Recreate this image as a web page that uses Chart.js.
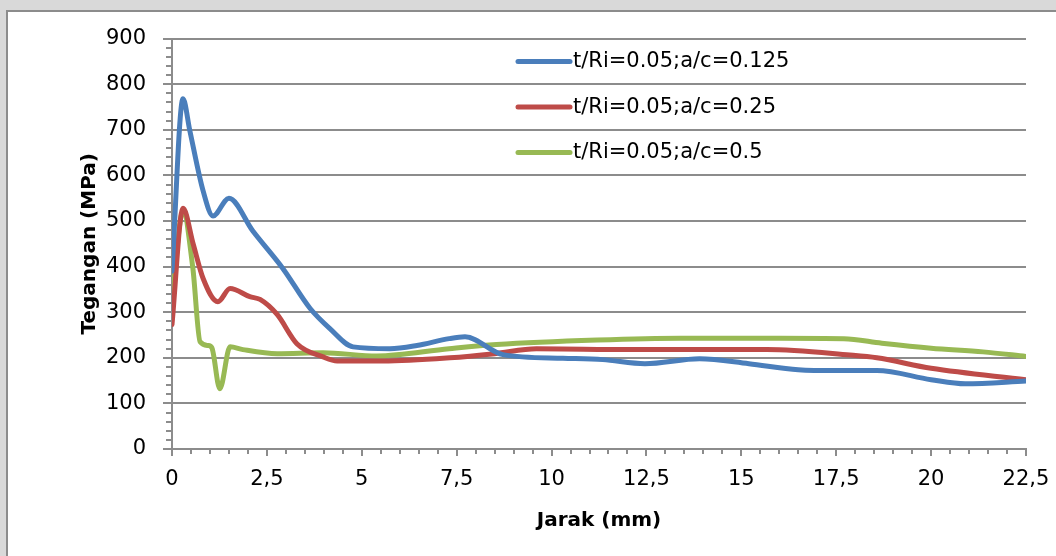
<!DOCTYPE html>
<html>
<head>
<meta charset="utf-8">
<script src="https://cdn.jsdelivr.net/npm/chart.js@4.4.1/dist/chart.umd.min.js"></script>
<style>
  html, body { margin: 0; padding: 0; }
  body { width: 1056px; height: 556px; background: #d9d9d9; position: relative; overflow: hidden; }
  #kotak { position: absolute; left: 6px; top: 10px; width: 1100px; height: 600px; background: #fff; border: 2px solid #8c8c8c; box-sizing: border-box; }
  #grafik { position: absolute; left: 0; top: 0; }
</style>
</head>
<body>
<div id="kotak"></div>
<canvas id="grafik" width="1056" height="556"></canvas>
<script>
// jarak (mm) dan tegangan (MPa) tiap kurva
const jarakA = [0, 0.29, 0.47, 0.82, 1.08, 1.5, 2.13, 2.92, 3.64, 4.16, 4.77, 5.74, 6.45, 7.3, 7.72, 8.72, 10.3, 11.35, 12.46, 13.9, 15.2, 16.5, 17.5, 18.57, 20.0, 20.9, 22.5];
const teganganA = [390, 768, 698, 566, 511, 550, 478, 396, 308, 264, 224, 220, 227, 242, 246, 207, 199, 196, 187, 198, 187, 174, 172, 172, 152, 143, 149];

const jarakB = [0, 0.29, 0.56, 0.82, 1.21, 1.53, 2.05, 2.32, 2.77, 3.29, 3.98, 4.35, 5.56, 7.32, 8.5, 9.6, 12.07, 15.67, 17.86, 18.57, 20.0, 22.5];
const teganganB = [273, 528, 449, 374, 323, 352, 334, 328, 295, 231, 202, 193, 193, 200, 209, 220, 218, 218, 206, 200, 177, 152];

const jarakC = [0, 0.29, 0.55, 0.74, 0.95, 1.05, 1.26, 1.53, 1.87, 2.77, 3.98, 5.4, 7.3, 8.55, 11.2, 13.4, 16.0, 17.7, 18.7, 20.0, 21.37, 22.5];
const teganganC = [330, 521, 396, 235, 227, 222, 132, 224, 218, 209, 211, 204, 220, 229, 239, 243, 243, 242, 232, 221, 213, 203];

const namaSeri = ["t/Ri=0.05;a/c=0.125", "t/Ri=0.05;a/c=0.25", "t/Ri=0.05;a/c=0.5"];
const warnaSeri = ["#4a7ebb", "#be4b48", "#98b954"];

const abu = "#8c8c8c";
const hurufAngka = { family: "DejaVu Sans", size: 21 };
const hurufJudul = { family: "DejaVu Sans", size: 20, weight: "bold" };

function gabung(xs, ys) {
  return xs.map((x, i) => ({ x, y: ys[i] }));
}

function seri(i, xs, ys) {
  return {
    label: namaSeri[i],
    data: gabung(xs, ys),
    borderColor: warnaSeri[i],
    borderWidth: 5,
    pointRadius: 0,
    fill: false,
    cubicInterpolationMode: "monotone",
    borderCapStyle: "round",
    borderJoinStyle: "round"
  };
}

// tanda skala mayor/minor di luar sumbu
const tandaSkala = {
  id: "tandaSkala",
  afterDraw(chart) {
    const { ctx, chartArea: area, scales: { x, y } } = chart;
    ctx.save();
    ctx.strokeStyle = abu;
    ctx.lineWidth = 2;
    for (let v = 0; v <= 900; v += 20) {
      const py = Math.round(y.getPixelForValue(v));
      const p = v % 100 === 0 ? 9 : 6;
      ctx.beginPath();
      ctx.moveTo(area.left - p, py);
      ctx.lineTo(area.left, py);
      ctx.stroke();
    }
    for (let k = 0; k <= 45; k++) {
      const px = Math.round(x.getPixelForValue(k * 0.5));
      const p = k % 5 === 0 ? 7 : 5;
      ctx.beginPath();
      ctx.moveTo(px, area.bottom);
      ctx.lineTo(px, area.bottom + p);
      ctx.stroke();
    }
    ctx.restore();
  }
};

// legenda di dalam area plot
const legendaDalam = {
  id: "legendaDalam",
  afterDraw(chart) {
    const { ctx, chartArea: area } = chart;
    ctx.save();
    ctx.font = "21px 'DejaVu Sans'";
    ctx.textBaseline = "middle";
    ctx.fillStyle = "#000";
    ctx.lineCap = "round";
    ctx.lineWidth = 5;
    chart.data.datasets.forEach((ds, i) => {
      const ly = area.top + 23 + i * 45.5;
      const lx = area.left + 346;
      ctx.strokeStyle = ds.borderColor;
      ctx.beginPath();
      ctx.moveTo(lx, ly);
      ctx.lineTo(lx + 52, ly);
      ctx.stroke();
      ctx.fillText(ds.label, lx + 55, ly);
    });
    ctx.restore();
  }
};

new Chart(document.getElementById("grafik"), {
  type: "line",
  data: {
    datasets: [
      seri(0, jarakA, teganganA),
      seri(1, jarakB, teganganB),
      seri(2, jarakC, teganganC)
    ]
  },
  options: {
    responsive: false,
    animation: false,
    layout: { padding: { top: 38, right: 30, left: 0, bottom: 0 } },
    plugins: { legend: { display: false }, tooltip: { enabled: false } },
    scales: {
      x: {
        type: "linear",
        min: 0,
        max: 22.5,
        grid: { display: false, drawTicks: false },
        border: { color: abu, width: 2 },
        ticks: {
          stepSize: 2.5,
          padding: 18,
          color: "#000",
          font: hurufAngka,
          maxRotation: 0,
          callback: v => String(v).replace(".", ",")
        },
        title: { display: true, text: "Jarak (mm)", color: "#000", font: hurufJudul, padding: { bottom: 23 } },
        afterFit: s => { s.height = 107; s.paddingRight = 0; s.paddingLeft = 0; }
      },
      y: {
        min: 0,
        max: 900,
        grid: { color: abu, lineWidth: 2, drawTicks: false },
        border: { color: abu, width: 2 },
        ticks: { stepSize: 100, padding: 26, color: "#000", font: hurufAngka },
        title: { display: true, text: "Tegangan (MPa)", color: "#000", font: hurufJudul, padding: { top: 78 } },
        afterFit: s => { s.width = 172; }
      }
    }
  },
  plugins: [tandaSkala, legendaDalam]
});
</script>
</body>
</html>
